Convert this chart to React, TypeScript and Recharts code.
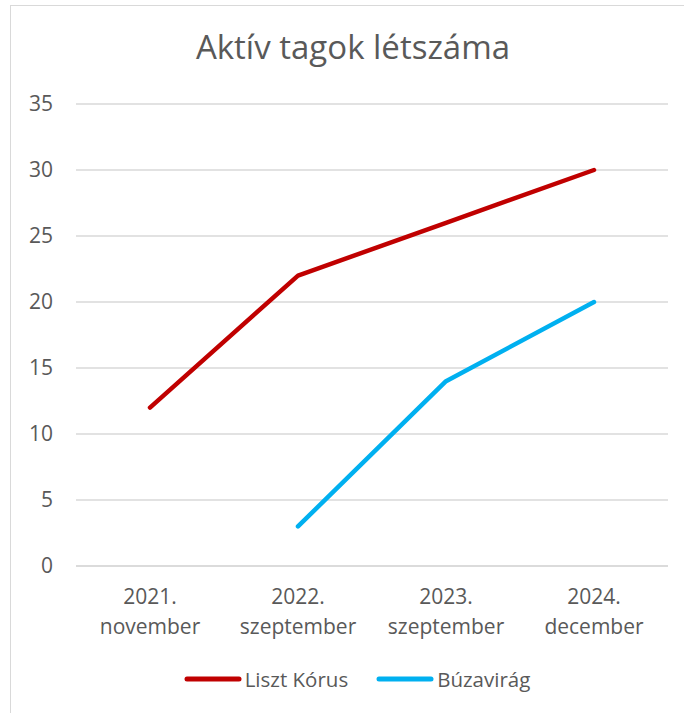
import React from "react";
import { LineChart, Line, XAxis, YAxis, CartesianGrid, Legend } from "recharts";

const categoryYears = ["2021.", "2022.", "2023.", "2024."];
const categoryMonths = ["november", "szeptember", "szeptember", "december"];
const lisztKorus = [12, 22, 26, 30];
const buzavirag: (number | null)[] = [null, 3, 14, 20];
const yTicks = [0, 5, 10, 15, 20, 25, 30, 35];

const seriesList = [
  { key: "liszt", name: "Liszt Kórus", color: "#C00000" },
  { key: "buza", name: "Búzavirág", color: "#00B0F0" },
];

const data = categoryYears.map((y, i) => ({
  key: `${y} ${categoryMonths[i]}`,
  year: y,
  month: categoryMonths[i],
  liszt: lisztKorus[i],
  buza: buzavirag[i],
}));

const FONT = "'Open Sans', 'Noto Sans', sans-serif";
const TEXT = "#595959";

const XTick = (props: any) => {
  const { x, y, index } = props;
  return (
    <text x={x} y={y} textAnchor="middle" fill={TEXT} fontSize={21} fontFamily={FONT}>
      <tspan x={x} y={y + 30}>{categoryYears[index]}</tspan>
      <tspan x={x} y={y + 60}>{categoryMonths[index]}</tspan>
    </text>
  );
};

const LegendContent = () => {
  return (
    <div
      style={{
        display: "flex",
        justifyContent: "center",
        alignItems: "center",
        paddingLeft: 46,
        height: 40,
        fontFamily: FONT,
        fontSize: 20.5,
        color: TEXT,
      }}
    >
      {seriesList.map((p, i) => (
        <div key={p.key} style={{ display: "flex", alignItems: "center", marginLeft: i === 0 ? 0 : 28 }}>
          <svg width={58} height={8} style={{ display: "block" }}>
            <line x1={3} y1={4} x2={55} y2={4} stroke={p.color} strokeWidth={5} strokeLinecap="round" />
          </svg>
          <span style={{ marginLeft: 3, lineHeight: "28px" }}>{p.name}</span>
        </div>
      ))}
    </div>
  );
};

export default function App() {
  return (
    <div
      style={{
        position: "absolute",
        left: 0,
        top: 0,
        width: 684,
        height: 713,
        overflow: "hidden",
        background: "#fff",
      }}
    >
      <div
        style={{
          position: "absolute",
          left: 10,
          top: 5,
          width: 800,
          height: 800,
          border: "1.5px solid #d9d9d9",
          boxSizing: "border-box",
        }}
      />
      <svg width={684} height={90} style={{ position: "absolute", left: 0, top: 0 }}>
        <text x={353} y={59} textAnchor="middle" fill={TEXT} fontSize={33} fontFamily={FONT}>
          Aktív tagok létszáma
        </text>
      </svg>
      <div style={{ position: "absolute", left: 0, top: 0 }}>
        <LineChart
          width={684}
          height={713}
          data={data}
          margin={{ top: 104, right: 16, bottom: 14, left: 0 }}
        >
          <CartesianGrid vertical={false} stroke="#d9d9d9" strokeWidth={1.3} />
          <XAxis
            dataKey="key"
            height={93}
            axisLine={{ stroke: "#d9d9d9", strokeWidth: 1.3 }}
            tickLine={false}
            tick={<XTick />}
            interval={0}
            padding={{ left: 74, right: 74 }}
          />
          <YAxis
            width={76}
            domain={[0, 35]}
            ticks={yTicks}
            axisLine={false}
            tickLine={false}
            tickMargin={17}
            tick={{ fill: TEXT, fontSize: 21, fontFamily: FONT }}
          />
          <Legend verticalAlign="bottom" height={40} content={<LegendContent />} />
          {seriesList.map((s) => (
            <Line
              key={s.key}
              type="linear"
              dataKey={s.key}
              name={s.name}
              stroke={s.color}
              strokeWidth={4.5}
              strokeLinecap="round"
              strokeLinejoin="round"
              dot={false}
              activeDot={false}
              isAnimationActive={false}
            />
          ))}
        </LineChart>
      </div>
    </div>
  );
}
